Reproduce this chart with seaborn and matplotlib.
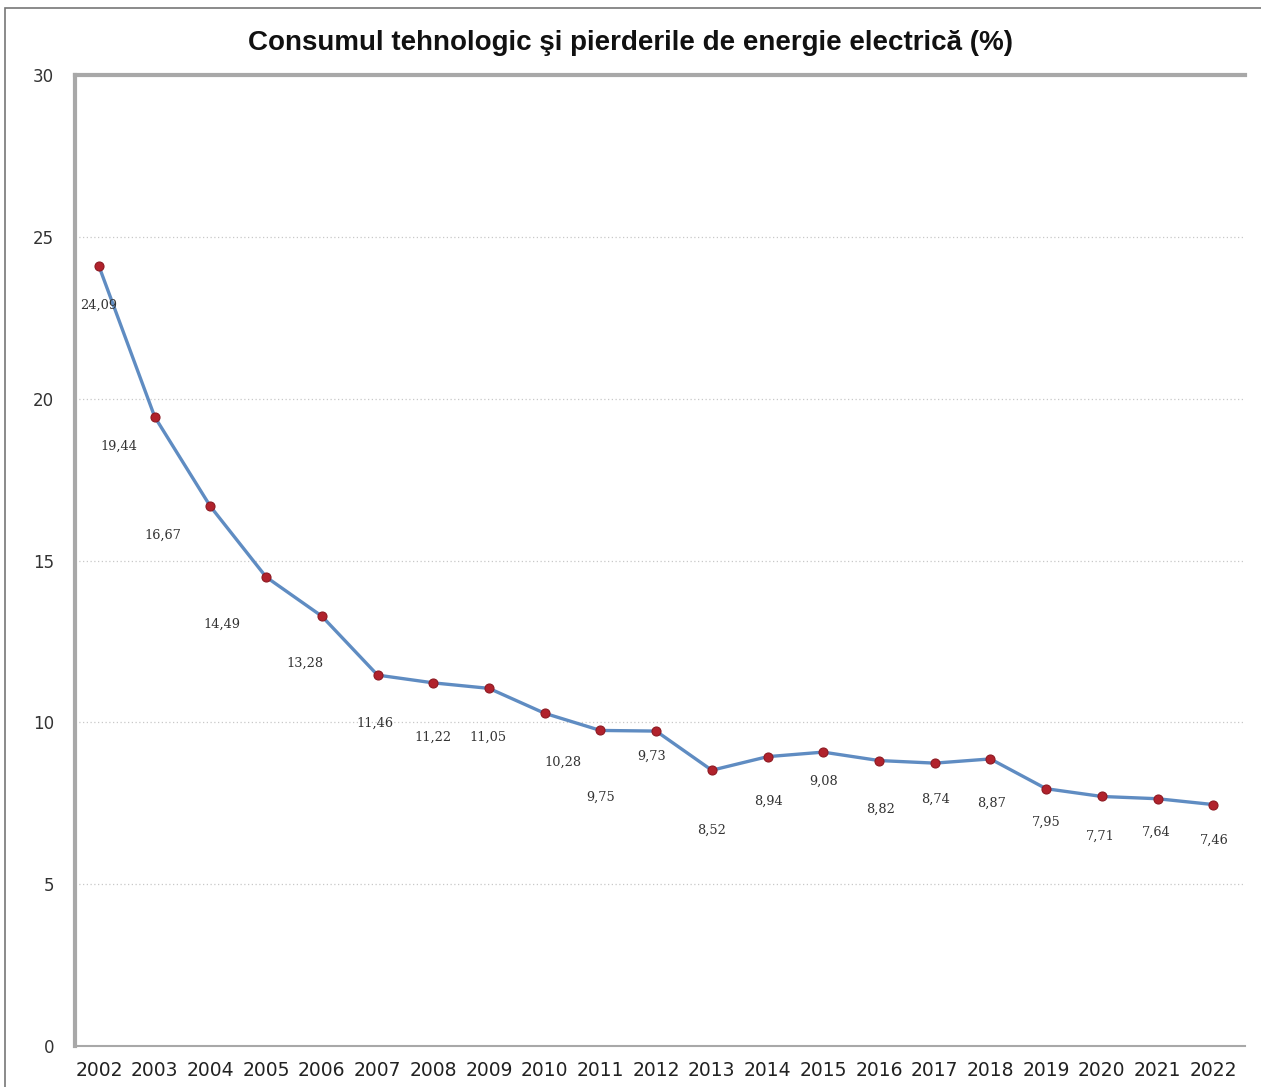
import matplotlib
matplotlib.use("Agg")
import matplotlib.pyplot as plt
import seaborn as sns
import pandas as pd
from matplotlib.patches import Rectangle

# --- date ---
ani = [2002, 2003, 2004, 2005, 2006, 2007, 2008, 2009, 2010, 2011, 2012,
       2013, 2014, 2015, 2016, 2017, 2018, 2019, 2020, 2021, 2022]
valori = [24.09, 19.44, 16.67, 14.49, 13.28, 11.46, 11.22, 11.05, 10.28, 9.75, 9.73,
          8.52, 8.94, 9.08, 8.82, 8.74, 8.87, 7.95, 7.71, 7.64, 7.46]
etichete = ["24,09", "19,44", "16,67", "14,49", "13,28", "11,46", "11,22", "11,05", "10,28", "9,75", "9,73",
            "8,52", "8,94", "9,08", "8,82", "8,74", "8,87", "7,95", "7,71", "7,64", "7,46"]
y_ticks = [0, 5, 10, 15, 20, 25, 30]

# decalaj etichete (puncte tipografice) - doar pentru asezare
dx = [0, -26, -34, -32, -12, -2, 0, -1, 13, 0, -3, 0, 1, 0, 1, 1, 1, 0, -1, -1, 1]
dy = [-28, -21, -21, -34, -34, -35, -39, -35, -35, -48, -18, -43, -32, -21, -35, -26, -32, -24, -29, -24, -26]

df = pd.DataFrame({"an": ani, "valoare": valori})

sns.set_style("white")
plt.rcParams["font.family"] = ["Liberation Sans", "DejaVu Sans"]

fig = plt.figure(figsize=(12.61, 10.87), dpi=100)
ax = fig.add_axes([0.0595, 0.0377, 0.9278, 0.8933])

sns.lineplot(data=df, x="an", y="valoare", ax=ax, color="#5f8cc2", linewidth=2.4,
             marker="o", markersize=6.5, markerfacecolor="#b1222c", markeredgecolor="#8e1a22",
             markeredgewidth=0.8)

for x, y, t, ox, oy in zip(ani, valori, etichete, dx, dy):
    ax.annotate(t, (x, y), xytext=(ox, oy), textcoords="offset points",
                ha="center", va="center", fontsize=9.3, family="DejaVu Serif", color="#333333")

ax.set_xlim(2001.57, 2022.57)
ax.set_ylim(0, 30)
ax.set_yticks(y_ticks)
ax.set_xticks(ani)
ax.set_xticklabels([str(a) for a in ani], fontsize=13.5, color="#222222", family="DejaVu Sans")
ax.set_yticklabels([str(v) for v in y_ticks], fontsize=12, color="#333333", family="DejaVu Sans")
ax.tick_params(axis="y", length=0, pad=15)
ax.tick_params(axis="x", length=0, pad=11)
ax.set_xlabel("")
ax.set_ylabel("")

for v in y_ticks[1:-1]:
    ax.axhline(v, color="#c8c8c8", linestyle=(0, (1, 2)), linewidth=0.9, zorder=0)

for s in ["left", "top", "bottom"]:
    ax.spines[s].set_color("#a8a8a8")
ax.spines["left"].set_linewidth(3)
ax.spines["top"].set_linewidth(3)
ax.spines["bottom"].set_linewidth(1.5)
ax.spines["right"].set_visible(False)

fig.text(0.5, 0.960, "Consumul tehnologic şi pierderile de energie electrică (%)",
         ha="center", va="center", fontsize=20, fontweight="bold", color="#111111")

# chenarul scanarii
fig.patches.append(Rectangle((0.004, -0.01), 1.2, 1.003, transform=fig.transFigure,
                             fill=False, edgecolor="#777777", linewidth=1.2))

fig.savefig("out.png", dpi=100)
